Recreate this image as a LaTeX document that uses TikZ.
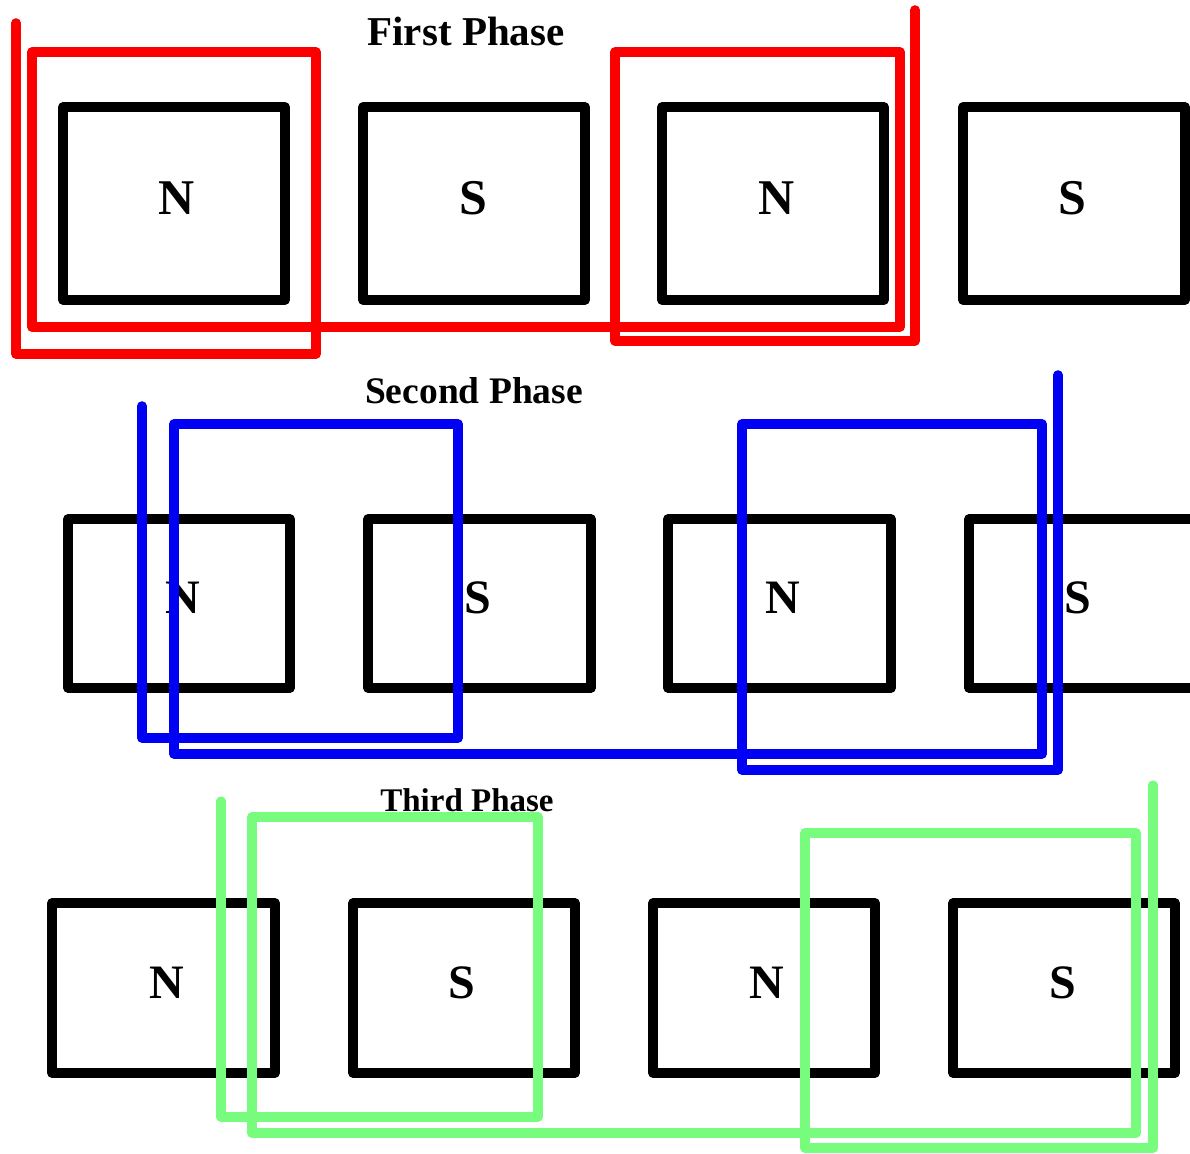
\documentclass[tikz,border=0pt]{standalone}
\usepackage{fontspec}
\setmainfont{Liberation Serif}
\definecolor{gr}{RGB}{120,252,125}
\definecolor{bl}{RGB}{0,0,245}
\definecolor{rd}{RGB}{252,0,0}
\tikzset{
 polebox/.style={draw=black,line width=9.6pt,line join=round},
 lbla/.style={font=\bfseries\fontsize{50pt}{50pt}\selectfont,inner sep=0pt},
 lblb/.style={font=\bfseries\fontsize{48pt}{48pt}\selectfont,inner sep=0pt},
 ttla/.style={font=\bfseries\fontsize{41pt}{41pt}\selectfont,inner sep=0pt},
 ttlb/.style={font=\bfseries\fontsize{37.5pt}{37.5pt}\selectfont,inner sep=0pt},
 ttlc/.style={font=\bfseries\fontsize{33pt}{33pt}\selectfont,inner sep=0pt},
 redw/.style={draw=rd,line width=9.6pt,line join=round,line cap=round},
 bluew/.style={draw=bl,line width=9.6pt,line join=round,line cap=round},
 greenw/.style={draw=gr,line width=9.2pt,line join=round,line cap=round},
}
\begin{document}
\begin{tikzpicture}[x=1pt,y=-1pt]
\useasboundingbox (0,0) rectangle (1190,1153);
\fill[white] (0,0) rectangle (1190,1153);
% row 1
\coordinate (a1) at (63,107);\coordinate (a1b) at (285,300);
\coordinate (a2) at (363,107);\coordinate (a2b) at (585,300);
\coordinate (a3) at (662,107);\coordinate (a3b) at (884,300);
\coordinate (a4) at (963,107);\coordinate (a4b) at (1185,300);
\draw[polebox] (a1) rectangle (a1b);\draw[polebox] (a2) rectangle (a2b);\draw[polebox] (a3) rectangle (a3b);\draw[polebox] (a4) rectangle (a4b);
\node[lbla] (n1) at (177,198) {N};
\node[lbla] (n2) at (473,198) {S};
\node[lbla] (n3) at (777,198) {N};
\node[lbla] (n4) at (1072,198) {S};
% row 2
\coordinate (b1) at (68,519);\coordinate (b1b) at (290,688);
\coordinate (b2) at (368,519);\coordinate (b2b) at (591,688);
\coordinate (b3) at (668,519);\coordinate (b3b) at (891,688);
\coordinate (b4) at (969,519);\coordinate (b4b) at (1200,688);
\draw[polebox] (b1) rectangle (b1b);\draw[polebox] (b2) rectangle (b2b);\draw[polebox] (b3) rectangle (b3b);\draw[polebox] (b4) rectangle (b4b);
\node[lblb] (m1) at (183,598) {N};
\node[lblb] (m2) at (478,598) {S};
\node[lblb] (m3) at (783,598) {N};
\node[lblb] (m4) at (1078,598) {S};
% row 3
\coordinate (c1) at (52,903);\coordinate (c1b) at (275,1073);
\coordinate (c2) at (353,903);\coordinate (c2b) at (575,1073);
\coordinate (c3) at (653,903);\coordinate (c3b) at (875,1073);
\coordinate (c4) at (953,903);\coordinate (c4b) at (1175,1073);
\draw[polebox] (c1) rectangle (c1b);\draw[polebox] (c2) rectangle (c2b);\draw[polebox] (c3) rectangle (c3b);\draw[polebox] (c4) rectangle (c4b);
\node[lblb] (p1) at (167,983) {N};
\node[lblb] (p2) at (462,983) {S};
\node[lblb] (p3) at (767,983) {N};
\node[lblb] (p4) at (1063,983) {S};
% titles
\node[ttla] (t1) at (466,31) {First Phase};
\node[ttlb] (t2) at (474,391) {Second Phase};
\node[ttlc] (t3) at (467,800) {Third Phase};
% red
\coordinate (r0) at (16,23);\coordinate (r9) at (915,10);
\draw[redw] (r0) -- (16,354) -- (316,354) -- (316,52) -- (32,52) -- (32,327) -- (900,327) -- (900,52) -- (615,52) -- (615,341) -- (915,341) -- (r9);
% blue
\coordinate (u0) at (142,406);\coordinate (u9) at (1058,375);
\draw[bluew] (u0) -- (142,738) -- (458,738) -- (458,424) -- (174,424) -- (174,754) -- (1042,754) -- (1042,424) -- (742,424) -- (742,770) -- (1058,770) -- (u9);
% green
\coordinate (g0) at (221,801);\coordinate (g9) at (1153,785);
\draw[greenw] (g0) -- (221,1117) -- (538,1117) -- (538,817) -- (252,817) -- (252,1133) -- (1136,1133) -- (1136,833) -- (805,833) -- (805,1148) -- (1153,1148) -- (g9);
\end{tikzpicture}
\end{document}
